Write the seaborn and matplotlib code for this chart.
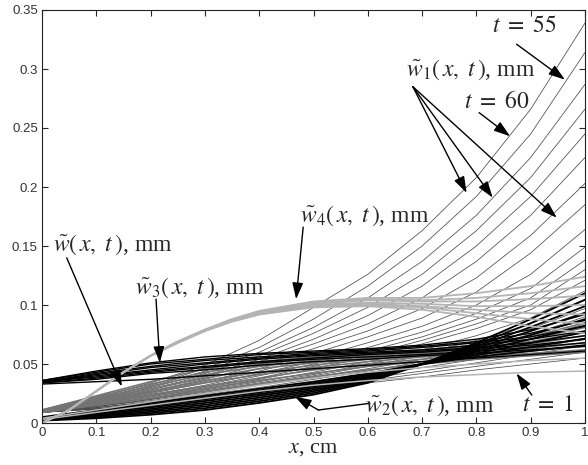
import matplotlib
matplotlib.use("Agg")
import matplotlib.pyplot as plt
import pandas as pd
import seaborn as sns

x_cm = [0.0, 0.1, 0.2, 0.3, 0.4, 0.5, 0.6, 0.7, 0.8, 0.9, 1.0]
# the light grey w4 curve bends fast near the wall, so it was read more densely
x_cm_w4 = [0.0, 0.05, 0.1, 0.15, 0.2, 0.25, 0.3, 0.35, 0.4, 0.5, 0.6, 0.7, 0.8, 0.9, 1.0]

# w1(x, t), mm - thin curves, t = 60 is the top one
w1_curves = [
    [0.009, 0.021, 0.034, 0.049, 0.070, 0.098, 0.126, 0.163, 0.208, 0.266, 0.339],
    [0.009, 0.020, 0.032, 0.046, 0.064, 0.088, 0.116, 0.150, 0.192, 0.245, 0.314],
    [0.009, 0.020, 0.031, 0.044, 0.060, 0.081, 0.106, 0.137, 0.176, 0.225, 0.287],
    [0.009, 0.019, 0.030, 0.042, 0.057, 0.076, 0.098, 0.126, 0.163, 0.208, 0.266],
    [0.009, 0.019, 0.029, 0.040, 0.054, 0.071, 0.091, 0.116, 0.150, 0.192, 0.245],
    [0.009, 0.018, 0.028, 0.039, 0.052, 0.067, 0.084, 0.106, 0.137, 0.176, 0.225],
    [0.009, 0.018, 0.027, 0.037, 0.049, 0.063, 0.078, 0.097, 0.123, 0.159, 0.203],
    [0.009, 0.017, 0.026, 0.035, 0.046, 0.059, 0.073, 0.089, 0.111, 0.144, 0.185],
    [0.009, 0.017, 0.025, 0.034, 0.044, 0.055, 0.068, 0.082, 0.100, 0.126, 0.164],
    [0.009, 0.016, 0.024, 0.032, 0.042, 0.052, 0.064, 0.077, 0.093, 0.114, 0.149],
    [0.009, 0.016, 0.023, 0.031, 0.040, 0.050, 0.061, 0.073, 0.088, 0.106, 0.138],
    [0.009, 0.015, 0.022, 0.030, 0.038, 0.048, 0.058, 0.070, 0.084, 0.100, 0.130],
    [0.009, 0.015, 0.021, 0.029, 0.037, 0.046, 0.056, 0.067, 0.080, 0.096, 0.121],
    [0.009, 0.015, 0.021, 0.028, 0.035, 0.043, 0.052, 0.062, 0.074, 0.089, 0.112],
    [0.009, 0.014, 0.020, 0.027, 0.034, 0.041, 0.050, 0.059, 0.070, 0.084, 0.104],
    [0.009, 0.014, 0.020, 0.026, 0.033, 0.040, 0.048, 0.057, 0.067, 0.080, 0.097],
    [0.009, 0.014, 0.019, 0.025, 0.032, 0.039, 0.046, 0.054, 0.064, 0.075, 0.090],
    [0.009, 0.013, 0.018, 0.024, 0.030, 0.037, 0.044, 0.052, 0.061, 0.071, 0.084],
    [0.009, 0.013, 0.018, 0.023, 0.029, 0.035, 0.042, 0.049, 0.057, 0.067, 0.078],
    [0.009, 0.013, 0.017, 0.022, 0.028, 0.034, 0.040, 0.047, 0.054, 0.062, 0.072],
    [0.009, 0.012, 0.016, 0.021, 0.026, 0.032, 0.038, 0.044, 0.051, 0.058, 0.066],
    [0.009, 0.012, 0.016, 0.020, 0.025, 0.030, 0.036, 0.042, 0.048, 0.054, 0.060],
    [0.009, 0.012, 0.015, 0.019, 0.024, 0.029, 0.034, 0.039, 0.045, 0.050, 0.055],
]

# w(x, t), mm - grey fan
w_curves = [
    [0.011, 0.023, 0.035, 0.046, 0.052, 0.056, 0.059, 0.062, 0.066, 0.073, 0.085],
    [0.011, 0.022, 0.033, 0.043, 0.050, 0.055, 0.058, 0.061, 0.065, 0.071, 0.081],
    [0.010, 0.021, 0.031, 0.041, 0.048, 0.053, 0.057, 0.060, 0.064, 0.069, 0.077],
    [0.010, 0.020, 0.029, 0.038, 0.046, 0.051, 0.055, 0.059, 0.062, 0.067, 0.074],
    [0.010, 0.019, 0.027, 0.036, 0.043, 0.049, 0.054, 0.057, 0.061, 0.065, 0.071],
    [0.010, 0.018, 0.026, 0.034, 0.041, 0.047, 0.052, 0.056, 0.059, 0.063, 0.068],
    [0.009, 0.017, 0.024, 0.031, 0.038, 0.045, 0.050, 0.054, 0.058, 0.061, 0.065],
    [0.009, 0.016, 0.023, 0.029, 0.036, 0.042, 0.048, 0.052, 0.056, 0.059, 0.062],
    [0.009, 0.015, 0.021, 0.027, 0.033, 0.039, 0.045, 0.050, 0.054, 0.057, 0.060],
]

# w2(x, t), mm - lower black band
w2_curves = [
    [0.0020, 0.0040, 0.0070, 0.0110, 0.0170, 0.0240, 0.0340, 0.050, 0.0680, 0.0880, 0.1100],
    [0.0024, 0.0049, 0.0083, 0.0125, 0.0185, 0.0254, 0.0350, 0.050, 0.0665, 0.0846, 0.1045],
    [0.0028, 0.0058, 0.0095, 0.0140, 0.0200, 0.0268, 0.0360, 0.050, 0.0650, 0.0813, 0.0990],
    [0.0031, 0.0066, 0.0108, 0.0155, 0.0215, 0.0281, 0.0370, 0.050, 0.0635, 0.0779, 0.0935],
    [0.0035, 0.0075, 0.0120, 0.0170, 0.0230, 0.0295, 0.0380, 0.050, 0.0620, 0.0745, 0.0880],
    [0.0039, 0.0084, 0.0133, 0.0185, 0.0245, 0.0309, 0.0390, 0.050, 0.0605, 0.0711, 0.0825],
    [0.0043, 0.0093, 0.0145, 0.0200, 0.0260, 0.0323, 0.0400, 0.050, 0.0590, 0.0678, 0.0770],
    [0.0046, 0.0101, 0.0158, 0.0215, 0.0275, 0.0336, 0.0410, 0.050, 0.0575, 0.0644, 0.0715],
    [0.0050, 0.0110, 0.0170, 0.0230, 0.0290, 0.0350, 0.0420, 0.050, 0.0560, 0.0610, 0.0660],
]

# w3(x, t), mm - upper black band
w3_curves = [
    [0.036, 0.044, 0.051, 0.056, 0.059, 0.061, 0.063, 0.066, 0.071, 0.079, 0.092],
    [0.036, 0.043, 0.050, 0.054, 0.058, 0.060, 0.062, 0.065, 0.069, 0.076, 0.087],
    [0.035, 0.042, 0.048, 0.053, 0.056, 0.059, 0.061, 0.064, 0.068, 0.073, 0.082],
    [0.035, 0.041, 0.047, 0.051, 0.055, 0.058, 0.060, 0.062, 0.066, 0.071, 0.078],
    [0.035, 0.040, 0.045, 0.050, 0.054, 0.057, 0.059, 0.061, 0.064, 0.068, 0.074],
    [0.035, 0.039, 0.044, 0.048, 0.052, 0.055, 0.058, 0.060, 0.063, 0.066, 0.071],
    [0.034, 0.038, 0.043, 0.047, 0.051, 0.054, 0.056, 0.058, 0.061, 0.064, 0.068],
    [0.034, 0.037, 0.042, 0.045, 0.049, 0.052, 0.054, 0.057, 0.059, 0.062, 0.065],
    [0.033, 0.035, 0.037, 0.040, 0.043, 0.046, 0.049, 0.052, 0.055, 0.058, 0.061],
]

# w4(x, t), mm - light grey band (read at x_cm_w4)
w4_curves = [
    [0.000, 0.011, 0.027, 0.043, 0.057, 0.069, 0.079, 0.088, 0.095, 0.103, 0.106, 0.106, 0.110, 0.116, 0.124],
    [0.000, 0.011, 0.027, 0.043, 0.057, 0.069, 0.079, 0.088, 0.094, 0.102, 0.105, 0.104, 0.106, 0.110, 0.116],
    [0.000, 0.011, 0.027, 0.043, 0.057, 0.069, 0.079, 0.087, 0.094, 0.101, 0.104, 0.103, 0.103, 0.105, 0.108],
    [0.000, 0.011, 0.027, 0.043, 0.057, 0.069, 0.079, 0.087, 0.093, 0.100, 0.102, 0.101, 0.099, 0.099, 0.100],
    [0.000, 0.011, 0.027, 0.043, 0.057, 0.068, 0.078, 0.087, 0.093, 0.100, 0.101, 0.099, 0.096, 0.093, 0.092],
    [0.000, 0.011, 0.027, 0.043, 0.057, 0.068, 0.078, 0.086, 0.092, 0.099, 0.100, 0.098, 0.093, 0.088, 0.084],
    [0.000, 0.011, 0.027, 0.043, 0.057, 0.068, 0.078, 0.086, 0.092, 0.098, 0.099, 0.096, 0.090, 0.082, 0.076],
]

# early-time curves (t = 1 and the next one), light grey
early_curves = [
    [0.003, 0.009, 0.015, 0.021, 0.027, 0.032, 0.036, 0.039, 0.041, 0.043, 0.044],
    [0.004, 0.011, 0.018, 0.025, 0.032, 0.038, 0.043, 0.047, 0.050, 0.053, 0.055],
]

y_ticks = [0, 0.05, 0.1, 0.15, 0.2, 0.25, 0.3, 0.35]
y_tick_labels = ["0", "0.05", "0.1", "0.15", "0.2", "0.25", "0.3", "0.35"]
x_ticks = [0, 0.1, 0.2, 0.3, 0.4, 0.5, 0.6, 0.7, 0.8, 0.9, 1.0]
x_tick_labels = ["0", "0.1", "0.2", "0.3", "0.4", "0.5", "0.6", "0.7", "0.8", "0.9", "1"]


def to_frame(curves, xs):
    rows = []
    for k, ys in enumerate(curves):
        for x, y in zip(xs, ys):
            rows.append({"x": x, "y": y, "curve": k})
    return pd.DataFrame(rows)


sns.set_style("ticks")
plt.rcParams["font.family"] = ["Liberation Serif", "DejaVu Serif"]
plt.rcParams["mathtext.fontset"] = "stix"

fig = plt.figure(figsize=(5.88, 4.65), dpi=100)
ax = fig.add_axes([42 / 588, 42 / 465, 543 / 588, 413 / 465])

# draw the families, bottom layer first
families = [
    (w1_curves, x_cm, "#4a4a4a", 0.55),
    (w_curves, x_cm, "#747474", 1.2),
    (w2_curves, x_cm, "#000000", 1.3),
    (w3_curves, x_cm, "#000000", 1.0),
    (early_curves, x_cm, "#b4b4b4", 1.1),
    (w4_curves, x_cm_w4, "#b4b4b4", 1.3),
]
for curves, xs, color, lw in families:
    sns.lineplot(data=to_frame(curves, xs), x="x", y="y", units="curve",
                 estimator=None, color=color, lw=lw, ax=ax, legend=False)

ax.set_xlim(0, 1)
ax.set_ylim(0, 0.35)
ax.set_xticks(x_ticks)
ax.set_xticklabels(x_tick_labels)
ax.set_yticks(y_ticks)
ax.set_yticklabels(y_tick_labels)
ax.tick_params(direction="in", top=True, right=True, length=4, width=0.8,
               labelsize=9.5, labelcolor="#333333", pad=3)
for lab in ax.get_xticklabels() + ax.get_yticklabels():
    lab.set_fontfamily("Liberation Sans")
for sp in ax.spines.values():
    sp.set_linewidth(0.8)
    sp.set_color("#222222")
ax.set_xlabel(r"$x$, cm", fontsize=16, labelpad=0)
ax.set_ylabel("")

arrow = dict(arrowstyle="-|>,head_length=0.9,head_width=0.3", color="black",
             lw=1.0, mutation_scale=11, shrinkA=0, shrinkB=0)
txt = dict(fontsize=17, ha="center", va="center")

# w1 label with three arrows
ax.text(0.79, 0.299, r"$\tilde{w}_1\left(\,x,\ t\,\right)$, mm", **txt)
for tip in [(0.782, 0.195), (0.830, 0.191), (0.948, 0.174)]:
    ax.annotate("", xy=tip, xytext=(0.683, 0.285), arrowprops=arrow)

ax.text(0.889, 0.336, r"$t\ =\ 55$", **txt)
ax.annotate("", xy=(0.963, 0.291), xytext=(0.874, 0.321), arrowprops=arrow)

ax.text(0.838, 0.272, r"$t\ =\ 60$", **txt)
ax.annotate("", xy=(0.862, 0.243), xytext=(0.805, 0.263), arrowprops=arrow)

ax.text(0.595, 0.176, r"$\tilde{w}_4\left(\,x,\ t\,\right)$, mm", **txt)
ax.annotate("", xy=(0.468, 0.105), xytext=(0.481, 0.166), arrowprops=arrow)

ax.text(0.131, 0.151, r"$\tilde{w}\left(\,x,\ t\,\right)$, mm", **txt)
ax.annotate("", xy=(0.147, 0.031), xytext=(0.0455, 0.140), arrowprops=arrow)

ax.text(0.291, 0.115, r"$\tilde{w}_3\left(\,x,\ t\,\right)$, mm", **txt)
ax.annotate("", xy=(0.217, 0.051), xytext=(0.21, 0.105), arrowprops=arrow)

ax.text(0.714, 0.0145, r"$\tilde{w}_2\left(\,x,\ t\,\right)$, mm", **txt)
ax.plot([0.604, 0.509], [0.0167, 0.0110], color="black", lw=1.0)
ax.annotate("", xy=(0.466, 0.0223), xytext=(0.509, 0.0110), arrowprops=arrow)

ax.text(0.932, 0.0145, r"$t\ =\ 1$", **txt)
ax.annotate("", xy=(0.874, 0.042), xytext=(0.902, 0.0237), arrowprops=arrow)

fig.savefig("out.png", dpi=100)
